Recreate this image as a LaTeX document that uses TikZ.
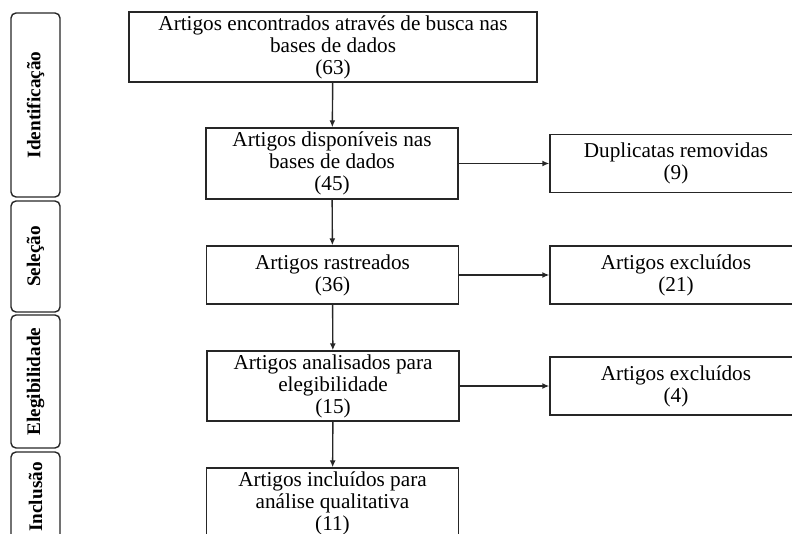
\documentclass[tikz,border=0pt]{standalone}
\usepackage{fontspec}
\setmainfont{Liberation Serif}
\usetikzlibrary{arrows.meta}
\tikzset{etapa/.style={draw=black!85,line width=0.7pt,align=center,inner sep=1pt,font=\fontsize{10.6}{11}\selectfont},
fase/.style={draw=black!85,line width=0.7pt,rounded corners=2.5pt,rotate=90,minimum height=24.5pt,font=\fontsize{9.6}{10}\selectfont\bfseries},
seta/.style={draw=black!85,line width=0.7pt,-{Latex[length=3.5pt,width=3pt]}}}

\begin{document}
\begin{tikzpicture}[x=0.5pt,y=-0.5pt]
\useasboundingbox (0,0) rectangle (792,534);
% fases
\node[fase,minimum width=92pt] (ident) at (35.5,105) {Identificação};
\node[fase,minimum width=55.5pt] (sel) at (35.5,256.5) {Seleção};
\node[fase,minimum width=66.5pt] (eleg) at (35.5,381.5) {Elegibilidade};
\node[fase,minimum width=45pt] (incl) at (35.5,497) {Inclusão};

% caixas
\node[etapa,minimum width=204pt,minimum height=35pt] (busca) at (333,47) {Artigos encontrados através de busca nas\\ bases de dados\\ (63)};
\node[etapa,minimum width=126pt,minimum height=35.5pt] (disp) at (332,163.5) {Artigos disponíveis nas\\ bases de dados\\ (45)};
\node[etapa,minimum width=126pt,minimum height=29pt] (rastr) at (332.5,275) {Artigos rastreados\\ (36)};
\node[etapa,minimum width=126pt,minimum height=35pt] (anal) at (333,386) {Artigos analisados para\\ elegibilidade\\ (15)};
\node[etapa,minimum width=126pt,minimum height=35pt] (inclu) at (332.5,503) {Artigos incluídos para\\ análise qualitativa\\ (11)};
\node[etapa,minimum width=126pt,minimum height=29pt] (dupl) at (676,163.5) {Duplicatas removidas\\ (9)};
\node[etapa,minimum width=126pt,minimum height=29pt] (excl1) at (676,275) {Artigos excluídos\\ (21)};
\node[etapa,minimum width=126pt,minimum height=29pt] (excl2) at (676,386) {Artigos excluídos\\ (4)};

\draw[seta] (busca)--(disp);
\draw[seta] (disp)--(rastr);
\draw[seta] (rastr)--(anal);
\draw[seta] (anal)--(inclu);
\draw[seta] (disp)--(dupl);
\draw[seta] (rastr)--(excl1);
\draw[seta] (anal)--(excl2);
\end{tikzpicture}
\end{document}
